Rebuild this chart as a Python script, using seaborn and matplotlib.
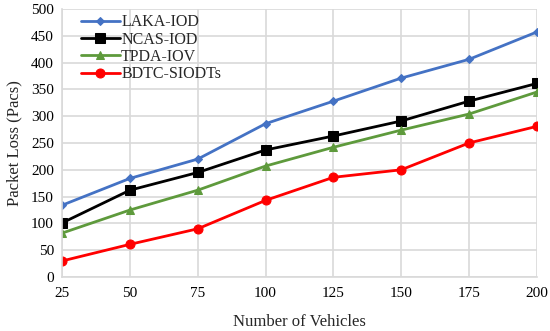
import numpy as np
import pandas as pd
import matplotlib
matplotlib.use("Agg")
import matplotlib.pyplot as plt
import seaborn as sns

vehicles = [25, 50, 75, 100, 125, 150, 175, 200]
laka_iod = [134, 184, 220, 286, 328, 371, 406, 457]
ncas_iod = [101, 162, 195, 237, 263, 291, 328, 361]
tpda_iov = [82, 125, 162, 207, 242, 274, 304, 345]
bdtc_siodts = [30, 61, 90, 143, 186, 200, 250, 281]

series_names = ["LAKA-IOD", "NCAS-IOD", "TPDA-IOV", "BDTC-SIODTs"]
series_vals = [laka_iod, ncas_iod, tpda_iov, bdtc_siodts]

df = pd.DataFrame({
    "Vehicles": vehicles * 4,
    "Loss": sum(series_vals, []),
    "Method": np.repeat(series_names, len(vehicles)),
})

sns.set_theme(style="whitegrid")
plt.rcParams["font.family"] = ["Liberation Serif", "DejaVu Serif"]

colors = ["#4472C4", "#000000", "#5E9A3C", "#FF0000"]
markers = ["D", "s", "^", "o"]
msizes = [4, 6.5, 5.5, 6.5]

fig = plt.figure(figsize=(5.5, 3.31), dpi=100)
ax = fig.add_axes([0.113, 0.163, 0.863, 0.81])

for name, c, m, ms in zip(series_names, colors, markers, msizes):
    sub = df[df["Method"] == name]
    sns.lineplot(data=sub, x="Vehicles", y="Loss", ax=ax, color=c, marker=m,
                 markersize=ms, markeredgecolor=c, linewidth=2, label=name)

ax.set_xlim(25, 200)
ax.set_ylim(0, 500)
ax.set_xticks(vehicles)
ax.set_yticks(range(0, 501, 50))
ax.grid(True, color="#D9D9D9", linewidth=1.2)
for s in ["top", "right"]:
    ax.spines[s].set_visible(False)
for s in ["left", "bottom"]:
    ax.spines[s].set_color("#D9D9D9")
    ax.spines[s].set_linewidth(1.2)
ax.tick_params(axis="x", labelsize=11, colors="#000000", length=0, pad=7)
ax.tick_params(axis="y", labelsize=11, colors="#000000", length=0, pad=6)
ax.set_xlabel("Number of Vehicles", fontsize=12, labelpad=10)
ax.set_ylabel("Packet Loss (Pacs)", fontsize=12, labelpad=6)

ax.legend(loc="upper left", bbox_to_anchor=(0.02, 1.015), frameon=False,
          fontsize=11.5, handlelength=2.4, labelspacing=0.08, borderaxespad=0.2,
          handletextpad=0.1)

fig.savefig("out.png", dpi=100)
